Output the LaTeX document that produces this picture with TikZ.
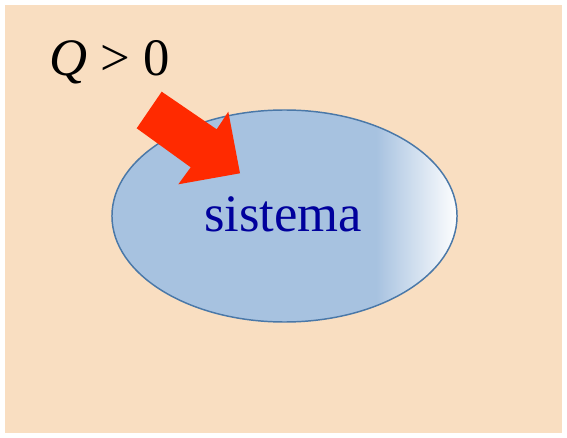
\documentclass[tikz,border=0pt]{standalone}
\usepackage{fontspec}
\setmainfont{Liberation Serif}
\definecolor{bgpeach}{HTML}{F9DEC1}
\definecolor{sysfill}{HTML}{A7C2E0}
\definecolor{sysedge}{HTML}{4A78A8}
\definecolor{heatred}{HTML}{FF2A00}
\definecolor{sysblue}{HTML}{00009C}
\tikzset{
  lbl/.style={inner sep=0pt, anchor=base west, font=\fontsize{39.5}{44}\selectfont},
}
\begin{document}
\begin{tikzpicture}[x=0.75pt,y=-0.75pt]
\useasboundingbox (0,0) rectangle (567,438);
% environment
\fill[bgpeach] (5,5) rectangle (562,433);
% system
\coordinate (c) at (284.5,216);
\fill[sysfill] (c) ellipse [x radius=129.4pt, y radius=79.5pt];
\begin{scope}
  \clip (c) ellipse [x radius=129.4pt, y radius=79.5pt];
  \shade[left color=sysfill, right color=white] (376,100) rectangle (458,330);
\end{scope}
\draw[sysedge, line width=1.1pt] (c) ellipse [x radius=129.4pt, y radius=79.5pt];
% heat arrow
\fill[heatred] (161.7,91.7) -- (216.7,129.3) -- (228.3,111.7) -- (240,173.3)
  -- (178.3,184.3) -- (190.7,167.3) -- (136.7,128.3) -- cycle;
% labels
\node[lbl] (qlabel) at (49,76) {\textit{Q} > 0};
\node[lbl, text=sysblue] (sys) at (204,231.5) {sistema};
\end{tikzpicture}
\end{document}
